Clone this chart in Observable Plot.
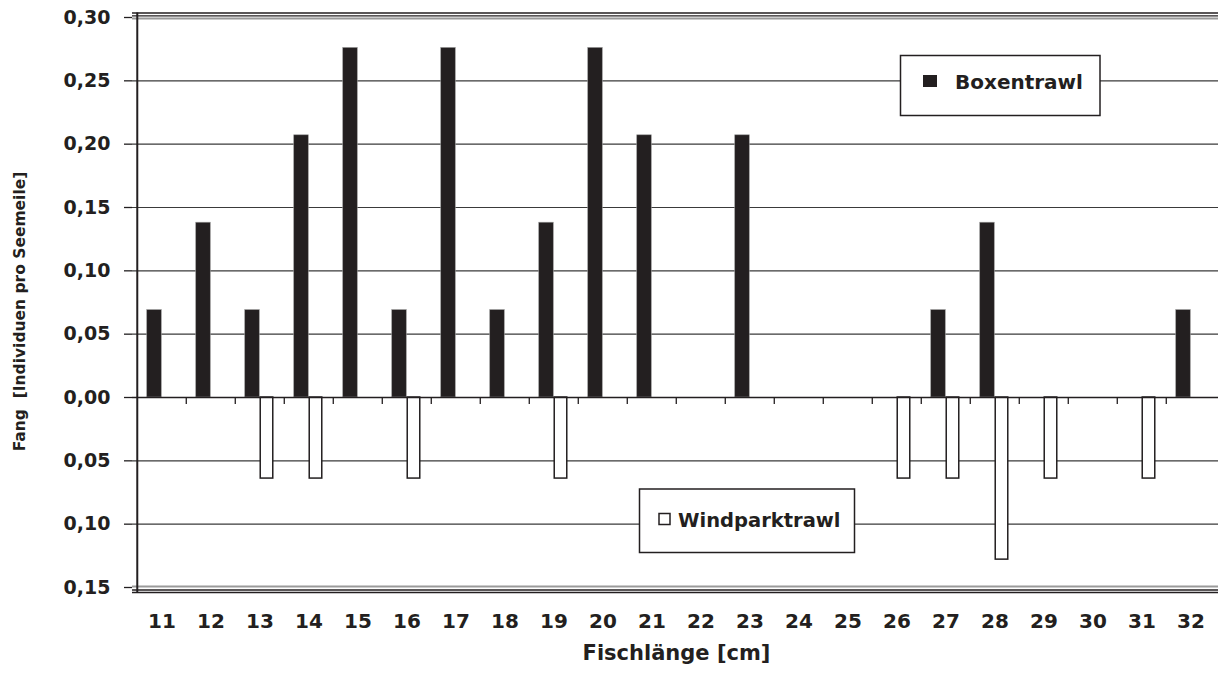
<!DOCTYPE html>
<html>
<head>
<meta charset="utf-8">
<script src="https://cdn.jsdelivr.net/npm/d3@7"></script>
<script src="https://cdn.jsdelivr.net/npm/@observablehq/plot@0.6"></script>
<style>
  html, body { margin: 0; padding: 0; background: #fff; }
  #chart { width: 1218px; height: 675px; }
</style>
</head>
<body>
<div id="chart"></div>
<script>
// ---- data ----
const lengths = ["11","12","13","14","15","16","17","18","19","20","21","22","23","24","25","26","27","28","29","30","31","32"];
const boxentrawl    = [0.069,0.138,0.069,0.207,0.276,0.069,0.276,0.069,0.138,0.276,0.207,0,0.207,0,0,0,0.069,0.138,0,0,0,0.069];
const windparktrawl = [0,0,0.064,0.064,0,0.064,0,0,0.064,0,0,0,0,0,0,0.064,0.064,0.128,0.064,0,0.064,0];
const yTicks = [-0.15,-0.10,-0.05,0,0.05,0.10,0.15,0.20,0.25,0.30];
const seriesNames = ["Boxentrawl","Windparktrawl"];
const xLabel = "Fischlänge [cm]";
const yLabel = "Fang\u00a0 [Individuen pro Seemeile]";

// ---- layout / style ----
const ink = "#231f20";
const W = 1218, H = 675;
const mL = 132, mR = -2, mT = 17, mB = 88;
const bandW = (W - mR - mL) / lengths.length;
const pxPerUnit = (H - mT - mB) / (0.30 - (-0.15));
const half = bandW / 2;

const boxData = lengths.map((l, i) => ({length: l, value: boxentrawl[i]})).filter(d => d.value > 0);
const windData = lengths.map((l, i) => ({length: l, value: -windparktrawl[i]})).filter(d => d.value < 0);
const boundaries = lengths.slice(1);
const fmt = d => Math.abs(d).toFixed(2).replace(".", ",");

const plot = Plot.plot({
  width: W, height: H,
  marginTop: mT, marginBottom: mB, marginLeft: mL, marginRight: mR,
  style: {fontFamily: "DejaVu Sans", fontWeight: "bold", color: ink, background: "white", overflow: "visible"},
  x: {type: "band", domain: lengths, padding: 0, label: null},
  y: {domain: [-0.15, 0.30], label: null},
  marks: [
    // gridlines
    Plot.ruleY(yTicks.filter(t => t !== 0 && t !== 0.30 && t !== -0.15), {stroke: "#3a3a3a", strokeWidth: 1.2}),
    // top frame (double line)
    Plot.ruleY([0.30], {stroke: "#9a9a9a", strokeWidth: 2, dy: 1}),
    Plot.ruleY([0.30], {stroke: ink, strokeWidth: 1.3, dy: -1.6}),
    Plot.ruleY([0.30], {stroke: ink, strokeWidth: 1.3, dy: -4.5}),
    // bottom frame (double line)
    Plot.ruleY([-0.15], {stroke: "#9a9a9a", strokeWidth: 2, dy: -1}),
    Plot.ruleY([-0.15], {stroke: ink, strokeWidth: 1.3, dy: 2.5}),
    Plot.ruleY([-0.15], {stroke: ink, strokeWidth: 1.3, dy: 5}),
    // bars
    Plot.barY(boxData, {x: "length", y: "value", fill: ink, stroke: "#9a9a9a", strokeWidth: 0.6,
      insetLeft: half - 15, insetRight: half}),
    Plot.barY(windData, {x: "length", y: "value", fill: "white", stroke: ink, strokeWidth: 1.5,
      insetLeft: half + 0.5, insetRight: half - 13.5}),
    // zero line with category ticks
    Plot.ruleY([0], {stroke: ink, strokeWidth: 1.5}),
    Plot.ruleX(boundaries, {x: d => d, y1: 0, y2: -7 / pxPerUnit, dx: -half, stroke: ink, strokeWidth: 1.3}),
    // left axis line
    Plot.ruleX([lengths[0]], {x: d => d, y1: 0.30 + 4.5 / pxPerUnit, y2: -0.15 - 5.5 / pxPerUnit, dx: -half, stroke: ink, strokeWidth: 2}),
    // axes
    Plot.axisY({ticks: yTicks, tickFormat: fmt, tickSize: 8, tickPadding: 14, fontSize: 19, label: null, strokeWidth: 1.3}),
    Plot.axisX({tickSize: 0, tickPadding: 26, fontSize: 20, label: null}),
    // axis titles
    Plot.text([xLabel], {frameAnchor: "bottom", lineAnchor: "middle", textAnchor: "middle", dy: 65.5, fontSize: 21, fill: ink}),
    Plot.text([yLabel], {frameAnchor: "left", rotate: -90, textAnchor: "middle", lineAnchor: "middle", dx: -112, dy: 9, fontSize: 15.5, fill: ink})
  ]
});

document.getElementById("chart").appendChild(plot);

// ---- legends (drawn into the plot's SVG) ----
const svg = d3.select(plot);
svg.selectAll("text").style("white-space", "pre");

const lg1 = svg.append("g").attr("font-family", "DejaVu Sans").attr("font-weight", "bold").attr("fill", ink).attr("text-anchor", "start");
lg1.append("rect").attr("x", 900.5).attr("y", 55.5).attr("width", 199.5).attr("height", 60)
  .attr("fill", "white").attr("stroke", ink).attr("stroke-width", 1.5);
lg1.append("rect").attr("x", 923).attr("y", 75).attr("width", 14).attr("height", 12).attr("fill", ink);
lg1.append("text").attr("x", 955).attr("y", 89).attr("font-size", 20).attr("text-anchor", "start").text(seriesNames[0]);

const lg2 = svg.append("g").attr("font-family", "DejaVu Sans").attr("font-weight", "bold").attr("fill", ink).attr("text-anchor", "start");
lg2.append("rect").attr("x", 639.5).attr("y", 489).attr("width", 215).attr("height", 63.5)
  .attr("fill", "white").attr("stroke", ink).attr("stroke-width", 1.5);
lg2.append("rect").attr("x", 659).attr("y", 513.5).attr("width", 11).attr("height", 11)
  .attr("fill", "white").attr("stroke", ink).attr("stroke-width", 1.5);
lg2.append("text").attr("x", 678).attr("y", 526.5).attr("font-size", 19.5).attr("text-anchor", "start").text(seriesNames[1]);
</script>
</body>
</html>
